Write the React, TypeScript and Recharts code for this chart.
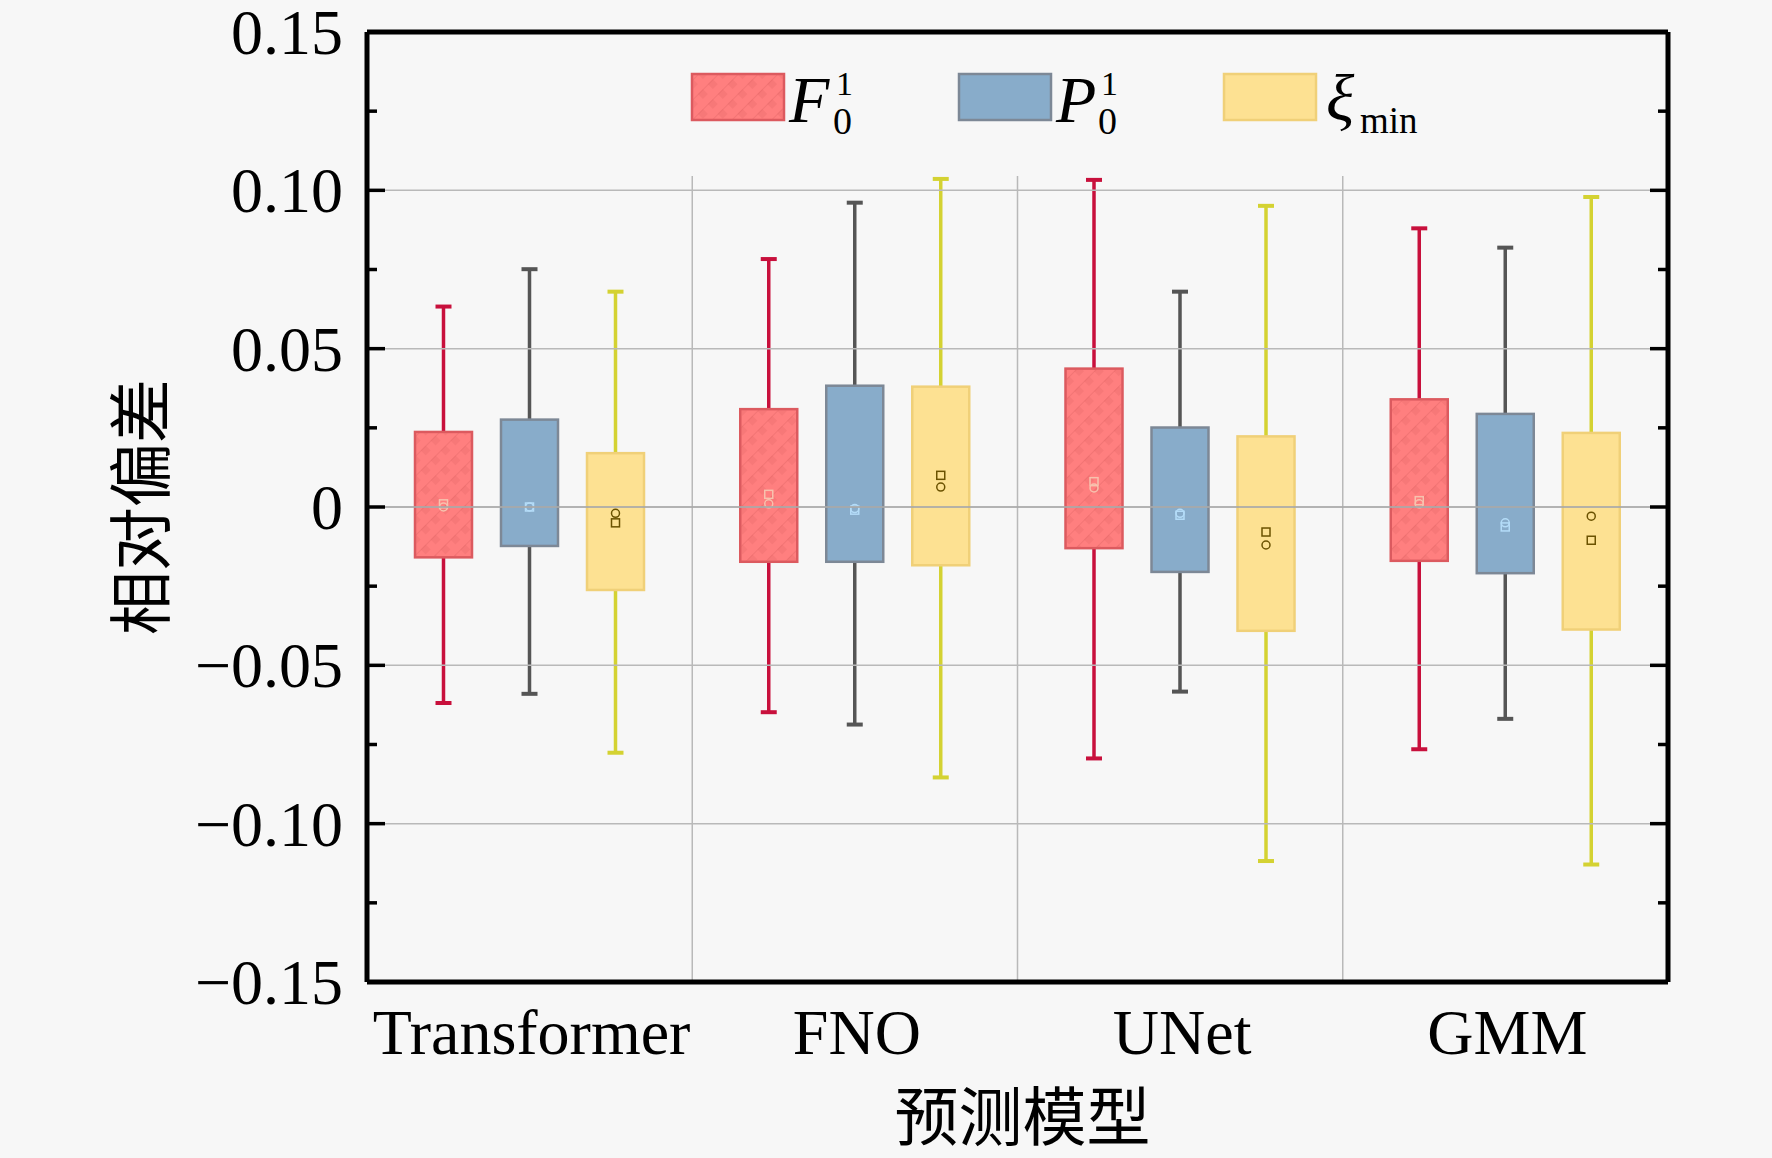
import React from 'react';
import { ComposedChart, Bar, XAxis, YAxis, ReferenceLine, Legend } from 'recharts';

// ---------- data ----------
const models = ['Transformer', 'FNO', 'UNet', 'GMM'];

// F_0^1 (red)
const fLow = [-0.0619, -0.0648, -0.0794, -0.0765];
const fQ1 = [-0.0159, -0.0173, -0.013, -0.017];
const fQ3 = [0.0237, 0.0309, 0.0437, 0.034];
const fHigh = [0.0633, 0.0783, 0.1033, 0.088];
const fMean = [0.001, 0.004, 0.008, 0.002];
const fMedian = [0.0, 0.001, 0.006, 0.001];

// P_0^1 (blue)
const pLow = [-0.059, -0.0687, -0.0583, -0.0669];
const pQ1 = [-0.0123, -0.0173, -0.0205, -0.0209];
const pQ3 = [0.0276, 0.0383, 0.0251, 0.0294];
const pHigh = [0.0751, 0.0961, 0.068, 0.0819];
const pMean = [0.0, -0.001, -0.0026, -0.0063];
const pMedian = [0.0, -0.0005, -0.002, -0.005];

// xi_min (yellow)
const xLow = [-0.0776, -0.0854, -0.1118, -0.1129];
const xQ1 = [-0.0262, -0.0184, -0.0391, -0.0387];
const xQ3 = [0.017, 0.038, 0.0223, 0.0234];
const xHigh = [0.068, 0.1036, 0.0951, 0.0979];
const xMean = [-0.005, 0.01, -0.0079, -0.0105];
const xMedian = [-0.002, 0.0063, -0.012, -0.0029];

const majorTicks = [-0.15, -0.1, -0.05, 0, 0.05, 0.1, 0.15];
const majorLabels = ['\u22120.15', '\u22120.10', '\u22120.05', '0', '0.05', '0.10', '0.15'];
const minorTicks = [-0.125, -0.075, -0.025, 0.025, 0.075, 0.125];
const gridValues = [-0.1, -0.05, 0, 0.05, 0.1];
const boundaryCategories = ['FNO', 'UNet', 'GMM'];
const yDomain = [-0.15, 0.15];

const yTitle = '相对偏差';
const xTitle = '预测模型';

// ---------- table ----------
const rows = models.map((m, i) => ({
  model: m,
  F: [fQ1[i], fQ3[i]], F_lo: fLow[i], F_hi: fHigh[i], F_mean: fMean[i], F_med: fMedian[i],
  P: [pQ1[i], pQ3[i]], P_lo: pLow[i], P_hi: pHigh[i], P_mean: pMean[i], P_med: pMedian[i],
  X: [xQ1[i], xQ3[i]], X_lo: xLow[i], X_hi: xHigh[i], X_mean: xMean[i], X_med: xMedian[i],
}));

const allTicks = [...majorTicks, ...minorTicks].sort((a, b) => a - b);

// ---------- styles ----------
const SERIF = '"Liberation Serif", "Times New Roman", serif';
const CJK = '"Noto Sans CJK SC", sans-serif';
const BG = '#f7f7f7';
const GRID = '#b9b9b9';

const series = [
  { key: 'F', fill: '#ff7f7f', stroke: '#dc5a5f', whisker: '#c8103c', marker: '#f7c2ae', hatch: true },
  { key: 'P', fill: '#88acca', stroke: '#7d8896', whisker: '#555555', marker: '#b4dcf8', hatch: false },
  { key: 'X', fill: '#fde192', stroke: '#f0d078', whisker: '#d4d232', marker: '#6b5200', hatch: false },
];

function BoxShape(props: any) {
  const { x, y, width, height, payload, index, cfg } = props;
  const [q1, q3] = payload[cfg.key];
  const top = Math.min(y, y + height);
  const bottom = Math.max(y, y + height);
  const ppu = (bottom - top) / (q3 - q1);
  const py = (v: number) => bottom - (v - q1) * ppu;
  const cx = x + width / 2;
  const yHi = py(payload[cfg.key + '_hi']);
  const yLo = py(payload[cfg.key + '_lo']);
  const yMean = py(payload[cfg.key + '_mean']);
  const yMed = py(payload[cfg.key + '_med']);
  const pid = `hatch-${cfg.key}-${index}`;
  const cap = 8;
  return (
    <g>
      {cfg.hatch && (
        <defs>
          <pattern id={pid} width={14} height={14} patternUnits="userSpaceOnUse" patternTransform="rotate(45)">
            <rect x={0} y={0} width={7} height={7} fill="#e86a6a" opacity={0.35} />
            <line x1={0} y1={0} x2={0} y2={14} stroke="#d85a5a" strokeWidth={1.5} opacity={0.4} />
          </pattern>
        </defs>
      )}
      <line x1={cx} x2={cx} y1={yHi} y2={top} stroke={cfg.whisker} strokeWidth={3.5} />
      <line x1={cx} x2={cx} y1={bottom} y2={yLo} stroke={cfg.whisker} strokeWidth={3.5} />
      <line x1={cx - cap} x2={cx + cap} y1={yHi} y2={yHi} stroke={cfg.whisker} strokeWidth={4} />
      <line x1={cx - cap} x2={cx + cap} y1={yLo} y2={yLo} stroke={cfg.whisker} strokeWidth={4} />
      <rect x={x} y={top} width={width} height={bottom - top} fill={cfg.fill} stroke={cfg.stroke} strokeWidth={2.5} />
      {cfg.hatch && <rect x={x + 1} y={top + 1} width={width - 2} height={bottom - top - 2} fill={`url(#${pid})`} />}
      <rect x={cx - 4} y={yMean - 4} width={8} height={8} fill="none" stroke={cfg.marker} strokeWidth={1.5} />
      <circle cx={cx} cy={yMed} r={4} fill="none" stroke={cfg.marker} strokeWidth={1.5} />
    </g>
  );
}

function majorIndex(v: number) {
  return majorTicks.findIndex((t) => Math.abs(t - v) < 1e-9);
}

function LeftTick(props: any) {
  const { x, y, payload } = props;
  const mi = majorIndex(payload.value);
  const len = mi >= 0 ? 18 : 10;
  return (
    <g>
      <line x1={x} x2={x + len} y1={y} y2={y} stroke="#000" strokeWidth={3.5} />
      {mi >= 0 && (
        <text x={x - 24} y={y + 22} textAnchor="end" fontFamily={SERIF} fontSize={64} fill="#000">
          {majorLabels[mi]}
        </text>
      )}
    </g>
  );
}

function RightTick(props: any) {
  const { x, y, payload } = props;
  const mi = majorIndex(payload.value);
  const len = mi >= 0 ? 18 : 10;
  return <line x1={x} x2={x - len} y1={y} y2={y} stroke="#000" strokeWidth={3.5} />;
}

function XTick(props: any) {
  const { x, y, payload } = props;
  return (
    <text x={x + 2} y={y + 72} textAnchor="middle" fontFamily={SERIF} fontSize={64} fill="#000">
      {payload.value}
    </text>
  );
}

function YTitle(props: any) {
  const vb = props.viewBox;
  const cx = vb.x + 136;
  const cy = vb.y + vb.height / 2;
  return (
    <text
      x={cx}
      y={cy}
      transform={`rotate(-90 ${cx} ${cy})`}
      textAnchor="middle"
      dominantBaseline="central"
      fontFamily={CJK}
      fontSize={64}
      fill="#000"
    >
      {yTitle}
    </text>
  );
}

function XTitle(props: any) {
  const vb = props.viewBox;
  return (
    <text x={vb.x + vb.width / 2 + 5} y={vb.y + 158} textAnchor="middle" fontFamily={CJK} fontSize={64} fill="#000">
      {xTitle}
    </text>
  );
}

function LegendContent() {
  return (
    <svg width={1772} height={170} style={{ position: 'absolute', left: 0, top: 0, overflow: 'visible' }}>
      <defs>
        <pattern id="hatch-legend" width={14} height={14} patternUnits="userSpaceOnUse" patternTransform="rotate(45)">
          <rect x={0} y={0} width={7} height={7} fill="#e86a6a" opacity={0.35} />
          <line x1={0} y1={0} x2={0} y2={14} stroke="#d85a5a" strokeWidth={1.5} opacity={0.4} />
        </pattern>
      </defs>
      {/* F */}
      <rect x={692} y={74} width={92} height={46} fill={series[0].fill} stroke={series[0].stroke} strokeWidth={2.5} />
      <rect x={693} y={75} width={90} height={44} fill="url(#hatch-legend)" />
      <text x={789} y={122} fontFamily={SERIF} fontSize={66} fontStyle="italic" fill="#000">F</text>
      <text x={836} y={95} fontFamily={SERIF} fontSize={34} fill="#000">1</text>
      <text x={833} y={134} fontFamily={SERIF} fontSize={38} fill="#000">0</text>
      {/* P */}
      <rect x={959} y={74} width={92} height={46} fill={series[1].fill} stroke={series[1].stroke} strokeWidth={2.5} />
      <text x={1056} y={122} fontFamily={SERIF} fontSize={66} fontStyle="italic" fill="#000">P</text>
      <text x={1101} y={95} fontFamily={SERIF} fontSize={34} fill="#000">1</text>
      <text x={1098} y={134} fontFamily={SERIF} fontSize={38} fill="#000">0</text>
      {/* xi */}
      <rect x={1224} y={74} width={92} height={46} fill={series[2].fill} stroke={series[2].stroke} strokeWidth={2.5} />
      <text x={1326} y={120} fontFamily={SERIF} fontSize={66} fontStyle="italic" fill="#000">ξ</text>
      <text x={1360} y={133} fontFamily={SERIF} fontSize={37} fill="#000">min</text>
    </svg>
  );
}

export default function App() {
  return (
    <div style={{ position: 'absolute', left: 0, top: 0, width: 1772, height: 1158, background: BG, overflow: 'hidden' }}>
      <ComposedChart
        width={1772}
        height={1158}
        data={rows}
        margin={{ top: 32, right: 103, bottom: 0, left: 0 }}
        barGap={29}
        barSize={57}
      >
        <XAxis
          xAxisId="cat"
          dataKey="model"
          type="category"
          height={176}
          axisLine={{ stroke: '#000', strokeWidth: 5 }}
          tickLine={false}
          tickSize={0}
          tickMargin={0}
          interval={0}
          tick={<XTick />}
          label={(p: any) => <XTitle {...p} />}
        />
        <YAxis
          yAxisId="left"
          type="number"
          domain={yDomain}
          ticks={allTicks}
          interval={0}
          width={367}
          allowDataOverflow
          axisLine={{ stroke: '#000', strokeWidth: 5 }}
          tickLine={false}
          tickSize={0}
          tickMargin={0}
          tick={<LeftTick />}
          label={(p: any) => <YTitle {...p} />}
        />
        <YAxis
          yAxisId="right"
          orientation="right"
          type="number"
          domain={yDomain}
          ticks={allTicks}
          interval={0}
          width={1}
          allowDataOverflow
          axisLine={{ stroke: '#000', strokeWidth: 5 }}
          tickLine={false}
          tickSize={0}
          tickMargin={0}
          tick={<RightTick />}
        />
        {gridValues.map((v) => (
          <ReferenceLine key={`h${v}`} xAxisId="cat" yAxisId="left" y={v} stroke={GRID} strokeWidth={1.5} />
        ))}
        {boundaryCategories.map((c) => (
          <ReferenceLine
            key={`v${c}`}
            xAxisId="cat"
            yAxisId="left"
            position="start"
            segment={[{ x: c, y: 0.1045 }, { x: c, y: -0.15 }]}
            stroke={GRID}
            strokeWidth={1.5}
          />
        ))}
        {series.map((s) => (
          <Bar
            key={s.key}
            dataKey={s.key}
            xAxisId="cat"
            yAxisId="left"
            barSize={57}
            isAnimationActive={false}
            shape={(p: any) => <BoxShape {...p} cfg={s} />}
          />
        ))}
        <ReferenceLine xAxisId="cat" yAxisId="left" y={0} stroke="#9a9a9a" strokeWidth={1.5} strokeOpacity={0.6} />
        <ReferenceLine xAxisId="cat" yAxisId="left" y={0.15} stroke="#000" strokeWidth={5} />
        <Legend
          layout="vertical"
          align="center"
          verticalAlign="middle"
          wrapperStyle={{ left: 0, top: 0, width: 1772, height: 170, pointerEvents: 'none' }}
          content={() => <LegendContent />}
        />
      </ComposedChart>
    </div>
  );
}
